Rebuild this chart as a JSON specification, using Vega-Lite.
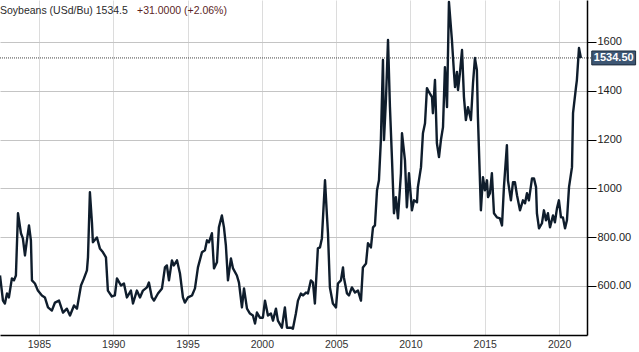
{
  "$schema": "https://vega.github.io/schema/vega-lite/v6.json",
  "width": 587,
  "height": 335,
  "autosize": {"type": "none"},
  "padding": {"left": 0, "top": 0, "right": 52, "bottom": 17},
  "background": "white",
  "config": {"view": {"stroke": null}, "font": "Liberation Sans"},
  "layer": [
    {
      "data": {"values": [{}]},
      "mark": {"type": "rule", "strokeDash": [1, 1], "color": "#444", "strokeWidth": 1},
      "encoding": {
        "x": {"datum": 1982.38, "type": "quantitative"},
        "x2": {"datum": 2022.2},
        "y": {"datum": 1534.5, "type": "quantitative"}
      }
    },
    {
      "data": {"values": [
        {"t":1982.38,"v":643},{"t":1982.58,"v":540},{"t":1982.71,"v":528},{"t":1982.85,"v":569},{"t":1982.98,"v":553},
        {"t":1983.18,"v":631},{"t":1983.32,"v":623},{"t":1983.45,"v":643},{"t":1983.59,"v":898},{"t":1983.79,"v":816},
        {"t":1983.92,"v":795},{"t":1984.06,"v":725},{"t":1984.19,"v":787},{"t":1984.33,"v":848},{"t":1984.46,"v":787},
        {"t":1984.53,"v":623},{"t":1984.73,"v":610},{"t":1984.93,"v":581},{"t":1985.20,"v":561},{"t":1985.40,"v":553},
        {"t":1985.61,"v":512},{"t":1985.87,"v":499},{"t":1986.08,"v":532},{"t":1986.35,"v":540},{"t":1986.62,"v":491},
        {"t":1986.88,"v":507},{"t":1987.09,"v":479},{"t":1987.36,"v":520},{"t":1987.56,"v":507},{"t":1987.83,"v":602},
        {"t":1988.03,"v":631},{"t":1988.23,"v":664},{"t":1988.30,"v":717},{"t":1988.43,"v":984},{"t":1988.57,"v":857},
        {"t":1988.63,"v":779},{"t":1988.90,"v":799},{"t":1989.10,"v":754},{"t":1989.31,"v":738},{"t":1989.51,"v":717},
        {"t":1989.64,"v":581},{"t":1989.91,"v":557},{"t":1990.11,"v":561},{"t":1990.25,"v":631},{"t":1990.52,"v":602},
        {"t":1990.72,"v":610},{"t":1990.92,"v":553},{"t":1991.19,"v":581},{"t":1991.33,"v":528},{"t":1991.59,"v":581},
        {"t":1991.80,"v":553},{"t":1992.00,"v":581},{"t":1992.27,"v":594},{"t":1992.40,"v":614},{"t":1992.60,"v":553},
        {"t":1992.74,"v":540},{"t":1993.01,"v":569},{"t":1993.28,"v":590},{"t":1993.48,"v":676},{"t":1993.61,"v":684},
        {"t":1993.75,"v":623},{"t":1993.95,"v":705},{"t":1994.08,"v":684},{"t":1994.29,"v":705},{"t":1994.49,"v":651},
        {"t":1994.69,"v":553},{"t":1994.82,"v":532},{"t":1995.03,"v":553},{"t":1995.30,"v":561},{"t":1995.50,"v":590},
        {"t":1995.70,"v":676},{"t":1995.97,"v":738},{"t":1996.17,"v":746},{"t":1996.31,"v":787},{"t":1996.44,"v":779},
        {"t":1996.64,"v":816},{"t":1996.78,"v":672},{"t":1996.98,"v":697},{"t":1997.11,"v":840},{"t":1997.31,"v":889},
        {"t":1997.45,"v":840},{"t":1997.58,"v":766},{"t":1997.72,"v":623},{"t":1997.92,"v":713},{"t":1998.06,"v":672},
        {"t":1998.32,"v":643},{"t":1998.46,"v":614},{"t":1998.66,"v":512},{"t":1998.80,"v":590},{"t":1999.00,"v":507},
        {"t":1999.20,"v":487},{"t":1999.40,"v":479},{"t":1999.54,"v":446},{"t":1999.67,"v":491},{"t":1999.87,"v":470},
        {"t":2000.07,"v":470},{"t":2000.21,"v":540},{"t":2000.41,"v":479},{"t":2000.61,"v":487},{"t":2000.75,"v":458},
        {"t":2000.95,"v":507},{"t":2001.08,"v":458},{"t":2001.35,"v":429},{"t":2001.55,"v":512},{"t":2001.69,"v":429},
        {"t":2001.96,"v":429},{"t":2002.09,"v":425},{"t":2002.29,"v":487},{"t":2002.43,"v":540},{"t":2002.63,"v":569},
        {"t":2002.77,"v":561},{"t":2002.97,"v":573},{"t":2003.10,"v":569},{"t":2003.30,"v":623},{"t":2003.44,"v":614},
        {"t":2003.57,"v":528},{"t":2003.77,"v":754},{"t":2003.91,"v":758},{"t":2004.04,"v":795},{"t":2004.25,"v":1033},
        {"t":2004.38,"v":889},{"t":2004.45,"v":816},{"t":2004.58,"v":594},{"t":2004.78,"v":528},{"t":2004.99,"v":512},
        {"t":2005.12,"v":610},{"t":2005.32,"v":623},{"t":2005.46,"v":676},{"t":2005.52,"v":635},{"t":2005.73,"v":569},
        {"t":2005.86,"v":561},{"t":2006.06,"v":594},{"t":2006.27,"v":573},{"t":2006.47,"v":581},{"t":2006.67,"v":540},
        {"t":2006.80,"v":676},{"t":2007.01,"v":692},{"t":2007.14,"v":775},{"t":2007.34,"v":758},{"t":2007.48,"v":840},
        {"t":2007.61,"v":848},{"t":2007.75,"v":992},{"t":2007.88,"v":1033},{"t":2008.01,"v":1198},{"t":2008.15,"v":1526},
        {"t":2008.22,"v":1198},{"t":2008.35,"v":1362},{"t":2008.49,"v":1608},{"t":2008.62,"v":1333},{"t":2008.76,"v":1115},
        {"t":2008.89,"v":898},{"t":2009.02,"v":964},{"t":2009.16,"v":877},{"t":2009.36,"v":1062},{"t":2009.43,"v":1226},
        {"t":2009.63,"v":1115},{"t":2009.76,"v":922},{"t":2009.90,"v":1062},{"t":2010.10,"v":910},{"t":2010.24,"v":951},
        {"t":2010.44,"v":943},{"t":2010.50,"v":1005},{"t":2010.71,"v":1087},{"t":2010.84,"v":1226},{"t":2010.98,"v":1267},
        {"t":2011.11,"v":1411},{"t":2011.24,"v":1395},{"t":2011.45,"v":1374},{"t":2011.51,"v":1308},{"t":2011.65,"v":1444},
        {"t":2011.78,"v":1185},{"t":2011.92,"v":1128},{"t":2012.05,"v":1198},{"t":2012.19,"v":1251},{"t":2012.32,"v":1497},
        {"t":2012.46,"v":1333},{"t":2012.59,"v":1764},{"t":2012.79,"v":1608},{"t":2012.93,"v":1473},{"t":2013.00,"v":1415},
        {"t":2013.13,"v":1477},{"t":2013.20,"v":1403},{"t":2013.33,"v":1473},{"t":2013.47,"v":1567},{"t":2013.60,"v":1374},
        {"t":2013.73,"v":1280},{"t":2013.87,"v":1333},{"t":2014.07,"v":1280},{"t":2014.21,"v":1432},{"t":2014.34,"v":1534},
        {"t":2014.47,"v":1485},{"t":2014.54,"v":1292},{"t":2014.74,"v":910},{"t":2014.88,"v":1046},{"t":2015.01,"v":992},
        {"t":2015.15,"v":1033},{"t":2015.22,"v":964},{"t":2015.35,"v":980},{"t":2015.48,"v":1062},{"t":2015.62,"v":898},
        {"t":2015.82,"v":881},{"t":2016.02,"v":877},{"t":2016.16,"v":848},{"t":2016.29,"v":1005},{"t":2016.49,"v":1177},
        {"t":2016.56,"v":1033},{"t":2016.76,"v":951},{"t":2016.90,"v":1025},{"t":2017.03,"v":1025},{"t":2017.17,"v":972},
        {"t":2017.37,"v":910},{"t":2017.57,"v":951},{"t":2017.71,"v":939},{"t":2017.84,"v":980},{"t":2017.97,"v":951},
        {"t":2018.18,"v":1041},{"t":2018.31,"v":1041},{"t":2018.45,"v":1005},{"t":2018.51,"v":898},{"t":2018.65,"v":836},
        {"t":2018.85,"v":857},{"t":2018.98,"v":910},{"t":2019.12,"v":869},{"t":2019.25,"v":898},{"t":2019.39,"v":840},
        {"t":2019.59,"v":889},{"t":2019.72,"v":861},{"t":2019.86,"v":918},{"t":2019.99,"v":951},{"t":2020.13,"v":881},
        {"t":2020.26,"v":881},{"t":2020.40,"v":836},{"t":2020.53,"v":869},{"t":2020.67,"v":1005},{"t":2020.87,"v":1087},
        {"t":2020.94,"v":1308},{"t":2021.14,"v":1415},{"t":2021.20,"v":1444},{"t":2021.34,"v":1575},{"t":2021.47,"v":1534.5}
      ]},
      "mark": {"type": "line", "color": "#0f1d2c", "strokeWidth": 2.4, "strokeJoin": "round"},
      "encoding": {
        "x": {
          "field": "t", "type": "quantitative",
          "scale": {"domain": [1982.38, 2021.88], "nice": false, "zero": false},
          "axis": {
            "title": null, "values": [1985, 1990, 1995, 2000, 2005, 2010, 2015, 2020], "format": "d",
            "grid": true, "gridColor": "#dcdcdc", "gridWidth": 1, "ticks": false,
            "domainColor": "#000", "domainWidth": 1.5, "labelColor": "#333", "labelFontSize": 10.5,
            "labelPadding": 4
          }
        },
        "y": {
          "field": "v", "type": "quantitative",
          "scale": {"domain": [399, 1772], "nice": false, "zero": false},
          "axis": {
            "orient": "right", "title": null, "values": [600, 800, 1000, 1200, 1400, 1600],
            "labelExpr": "datum.value < 1000 ? format(datum.value, '.2f') : format(datum.value, 'd')",
            "grid": true, "gridColor": "#c4c4c4", "gridWidth": 1,
            "tickColor": "#000", "tickSize": 9, "domainColor": "#000", "domainWidth": 1.5,
            "labelPadding": 1, "labelFontSize": 11, "labelColor": "#222"
          }
        }
      }
    },
    {
      "data": {"values": [{}]},
      "mark": {"type": "rect", "fill": "#3d5673", "stroke": "#1c2c3c", "strokeWidth": 1},
      "encoding": {
        "x": {"datum": 2022.2, "type": "quantitative"},
        "x2": {"datum": 2025.15},
        "y": {"datum": 1563, "type": "quantitative"},
        "y2": {"datum": 1506}
      }
    },
    {
      "data": {"values": [{"label": "1534.50"}]},
      "mark": {"type": "text", "color": "white", "fontWeight": "bold", "fontSize": 11, "align": "center", "baseline": "middle"},
      "encoding": {
        "x": {"datum": 2023.68, "type": "quantitative"},
        "y": {"datum": 1534.5, "type": "quantitative"},
        "text": {"field": "label"}
      }
    },
    {
      "data": {"values": [{"label": "Soybeans (USd/Bu) 1534.5"}]},
      "mark": {"type": "text", "color": "#2a2a2a", "fontSize": 10.5, "align": "left", "baseline": "alphabetic"},
      "encoding": {
        "x": {"datum": 1982.38, "type": "quantitative"},
        "y": {"datum": 1714, "type": "quantitative"},
        "text": {"field": "label"}
      }
    },
    {
      "data": {"values": [{"label": "+31.0000 (+2.06%)"}]},
      "mark": {"type": "text", "color": "#5c1f1f", "fontSize": 10.5, "align": "left", "baseline": "alphabetic"},
      "encoding": {
        "x": {"datum": 1991.6, "type": "quantitative"},
        "y": {"datum": 1714, "type": "quantitative"},
        "text": {"field": "label"}
      }
    }
  ]
}
